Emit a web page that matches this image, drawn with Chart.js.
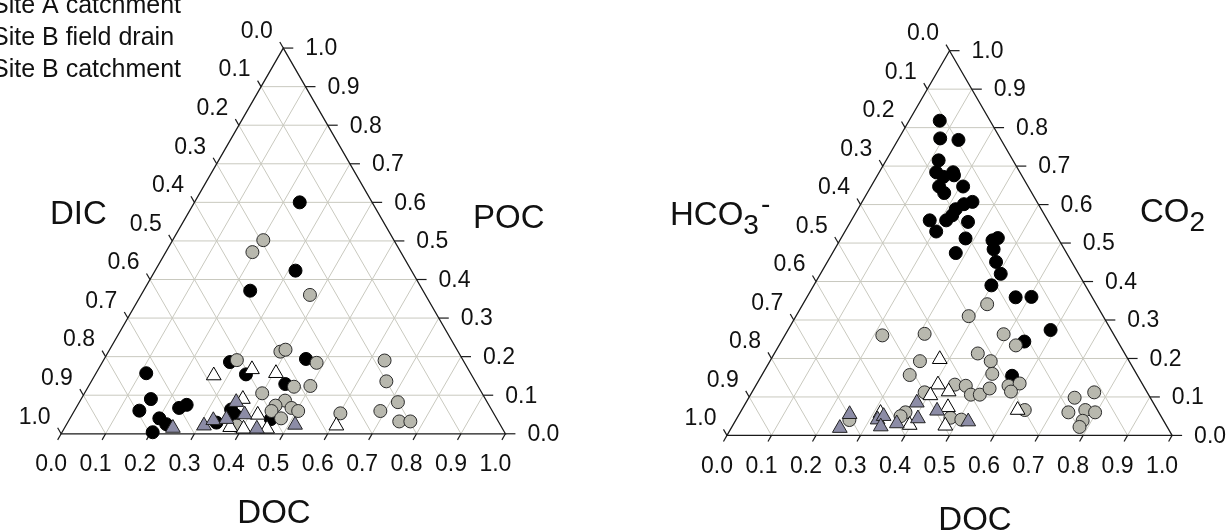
<!DOCTYPE html>
<html>
<head>
<meta charset="utf-8">
<script src="https://cdn.jsdelivr.net/npm/chart.js@4.4.0/dist/chart.umd.min.js"></script>
<style>
html,body{margin:0;padding:0;background:#fff;overflow:hidden;}
#wrap{position:relative;width:1232px;height:532px;}
#c1{position:absolute;left:0;top:0;}
#c2{position:absolute;left:616px;top:0;}
</style>
</head>
<body>
<div id="wrap">
<canvas id="c1" width="616" height="532"></canvas>
<canvas id="c2" width="616" height="532"></canvas>
</div>
<script>
// ---- tick labels / series names ----
const tickValues = [0,0.1,0.2,0.3,0.4,0.5,0.6,0.7,0.8,0.9,1.0];
const tickLabels = ['0.0','0.1','0.2','0.3','0.4','0.5','0.6','0.7','0.8','0.9','1.0'];
const seriesNames = ['Site A field drain','Site A catchment','Site B field drain','Site B catchment'];

// ---- LEFT plot: [DOC, POC] (DIC = 1 - DOC - POC) ----
const leftSiteAFieldDrain = [
 [0.237,0.600],[0.316,0.423],[0.240,0.371],
 [0.113,0.157],[0.157,0.090],[0.146,0.060],[0.201,0.040],[0.224,0.025],[0.204,0.004],
 [0.232,0.067],[0.245,0.075],[0.287,0.186],[0.339,0.154],[0.454,0.194],[0.440,0.129],
 [0.351,0.063],[0.367,0.049],[0.335,0.029],[0.453,0.038]
];
const leftSiteACatchment = [
 [0.204,0.502],[0.195,0.471],[0.380,0.360],
 [0.300,0.191],[0.387,0.213],[0.396,0.218],[0.483,0.184],[0.463,0.122],[0.499,0.124],
 [0.400,0.105],[0.461,0.086],[0.446,0.073],[0.485,0.067],[0.504,0.059],[0.444,0.059],
 [0.475,0.040],[0.385,0.021],[0.602,0.053],[0.633,0.190],[0.664,0.136],[0.717,0.082],
 [0.689,0.059],[0.745,0.032],[0.770,0.032]
];
const leftSiteBFieldDrain = [
 [0.268,0.151],[0.346,0.167],[0.405,0.157],[0.364,0.090],[0.418,0.049],
 [0.372,0.017],[0.404,0.013],[0.457,0.013],[0.609,0.021]
];
const leftSiteBCatchment = [
 [0.244,0.015],[0.311,0.021],[0.325,0.035],[0.353,0.038],[0.353,0.082],
 [0.388,0.050],[0.434,0.013],[0.515,0.023]
];

// ---- RIGHT plot: [DOC, CO2] (HCO3- = 1 - DOC - CO2) ----
const rightSiteAFieldDrain = [
 [0.069,0.818],[0.093,0.772],[0.136,0.768],[0.118,0.715],[0.128,0.684],[0.150,0.672],
 [0.166,0.684],[0.172,0.676],[0.153,0.647],[0.173,0.630],[0.207,0.647],[0.248,0.607],
 [0.232,0.601],[0.220,0.588],[0.220,0.572],[0.213,0.559],[0.176,0.559],[0.205,0.530],
 [0.264,0.555],[0.280,0.512],[0.277,0.474],[0.343,0.507],[0.352,0.513],[0.357,0.484],
 [0.379,0.451],[0.405,0.420],[0.399,0.390],[0.469,0.359],[0.504,0.360],[0.590,0.274],
 [0.546,0.244],[0.563,0.155]
];
const rightSiteACatchment = [
 [0.414,0.341],[0.388,0.310],[0.219,0.260],[0.312,0.264],[0.490,0.263],[0.532,0.234],
 [0.457,0.213],[0.496,0.193],[0.516,0.160],[0.337,0.193],[0.332,0.157],[0.446,0.132],
 [0.472,0.129],[0.495,0.106],[0.515,0.106],[0.529,0.122],[0.388,0.112],[0.568,0.129],
 [0.590,0.135],[0.581,0.114],[0.636,0.066],[0.769,0.112],[0.732,0.098],[0.737,0.060],
 [0.772,0.066],[0.797,0.060],[0.780,0.038],[0.781,0.022],[0.371,0.060],[0.365,0.050],
 [0.255,0.040],[0.479,0.046],[0.506,0.041]
];
const rightSiteBFieldDrain = [
 [0.379,0.198],[0.408,0.132],[0.441,0.114],[0.405,0.104],[0.460,0.073],[0.620,0.066],
 [0.397,0.027],[0.478,0.025],[0.316,0.058]
];
const rightSiteBCatchment = [
 [0.248,0.055],[0.244,0.019],[0.318,0.041],[0.327,0.050],[0.334,0.023],[0.366,0.031],
 [0.384,0.085],[0.407,0.044],[0.440,0.064],[0.524,0.036]
];

// ---- styles ----
const FONT = "'Liberation Sans', Arial, Helvetica, sans-serif";
const seriesStyle = [
  {style:'circle',   r:6.5, bg:'#000000', bd:'#000000', order:4},
  {style:'circle',   r:6.5, bg:'#b8b8ae', bd:'#2a2a2a', order:3},
  {style:'triangle', r:8.5, bg:'#ffffff', bd:'#000000', order:2},
  {style:'triangle', r:8.5, bg:'#8c8ca6', bd:'#222222', order:1}
];

function toXY(pairs){ return pairs.map(p => ({x: p[0] + 0.5*p[1], y: p[1]})); }

function makeDatasets(arrs){
  return arrs.map((a,i) => ({
    label: seriesNames[i],
    data: toXY(a),
    pointStyle: seriesStyle[i].style,
    pointRadius: seriesStyle[i].r,
    pointHoverRadius: seriesStyle[i].r,
    backgroundColor: seriesStyle[i].bg,
    borderColor: seriesStyle[i].bd,
    borderWidth: 1,
    showLine: false,
    order: seriesStyle[i].order
  }));
}

function P(chart, doc, top){
  const xs = chart.scales.x, ys = chart.scales.y;
  return [xs.getPixelForValue(doc + 0.5*top), ys.getPixelForValue(top)];
}

function drawRich(ctx, parts, x, y){
  let cx = x;
  parts.forEach(p => {
    ctx.font = p.size + 'px ' + FONT;
    ctx.fillText(p.t, cx + (p.dx||0), y + (p.dy||0));
    cx += ctx.measureText(p.t).width + (p.dx||0);
  });
}

function ternaryPlugin(cfg){
  return {
    id: 'ternary_' + cfg.id,
    beforeDatasetsDraw(chart){
      const ctx = chart.ctx;
      ctx.save();
      // grid
      ctx.strokeStyle = '#c9c9bf';
      ctx.lineWidth = 1;
      for (let i = 1; i < 10; i++){
        const v = tickValues[i];
        const lines = [
          [P(chart,0,v),       P(chart,1-v,v)],
          [P(chart,v,0),       P(chart,v,1-v)],
          [P(chart,1-v,0),     P(chart,0,1-v)]
        ];
        lines.forEach(l => {
          ctx.beginPath(); ctx.moveTo(l[0][0], l[0][1]); ctx.lineTo(l[1][0], l[1][1]); ctx.stroke();
        });
      }
      // edges
      const a = P(chart,0,0), b = P(chart,1,0), c = P(chart,0,1);
      ctx.strokeStyle = '#1a1a1a';
      ctx.lineWidth = 1.3;
      ctx.beginPath(); ctx.moveTo(a[0],a[1]); ctx.lineTo(b[0],b[1]); ctx.lineTo(c[0],c[1]); ctx.closePath(); ctx.stroke();
      // ticks
      const tl = 7, dxs = 0.5*tl, dys = 0.866*tl;
      ctx.lineWidth = 1.2;
      for (let i = 0; i <= 10; i++){
        const v = tickValues[i];
        let p = P(chart, v, 0);
        ctx.beginPath(); ctx.moveTo(p[0],p[1]); ctx.lineTo(p[0]-dxs, p[1]+dys); ctx.stroke();
        p = P(chart, 1-v, v);
        ctx.beginPath(); ctx.moveTo(p[0],p[1]); ctx.lineTo(p[0]+10, p[1]); ctx.stroke();
        p = P(chart, 0, 1-v);
        ctx.beginPath(); ctx.moveTo(p[0],p[1]); ctx.lineTo(p[0]-dxs, p[1]-dys); ctx.stroke();
      }
      ctx.restore();
    },
    afterDraw(chart){
      const ctx = chart.ctx;
      ctx.save();
      ctx.fillStyle = '#111';
      ctx.font = '23px ' + FONT;
      const tl = 7, dxs = 0.5*tl, dys = 0.866*tl;
      for (let i = 0; i <= 10; i++){
        const v = tickValues[i];
        let p = P(chart, v, 0);
        ctx.textAlign = 'center'; ctx.textBaseline = 'middle';
        ctx.fillText(tickLabels[i], p[0]-10, p[1]+31);
        p = P(chart, 1-v, v);
        ctx.textAlign = 'left'; ctx.textBaseline = 'middle';
        ctx.fillText(tickLabels[i], p[0]+22, p[1]+1);
        p = P(chart, 0, 1-v);
        ctx.textAlign = 'right'; ctx.textBaseline = 'bottom';
        ctx.fillText(tickLabels[i], p[0]-dxs-7, p[1]-dys+1);
      }
      // titles
      ctx.textBaseline = 'alphabetic';
      cfg.titles.forEach(t => {
        ctx.textAlign = 'left';
        if (t.center){
          let w = 0;
          t.parts.forEach(pp => { ctx.font = pp.size + 'px ' + FONT; w += ctx.measureText(pp.t).width; });
          drawRich(ctx, t.parts, t.x - w/2, t.y);
        } else {
          drawRich(ctx, t.parts, t.x, t.y);
        }
      });
      // legend (left chart only; markers fall outside the canvas)
      if (cfg.legend){
        ctx.font = '25px ' + FONT;
        ctx.textAlign = 'left';
        const baselines = [-19, 13, 45, 77];
        seriesNames.forEach((n,i) => {
          ctx.fillText(n, -8, baselines[i]);
        });
      }
      ctx.restore();
    }
  };
}

function makeChart(canvasId, arrs, ext, cfg){
  return new Chart(document.getElementById(canvasId), {
    type: 'scatter',
    data: { datasets: makeDatasets(arrs) },
    options: {
      responsive: false,
      animation: false,
      devicePixelRatio: 1,
      events: [],
      layout: { padding: 0 },
      plugins: { legend: { display: false }, tooltip: { enabled: false } },
      scales: {
        x: { type: 'linear', display: false, min: ext.xmin, max: ext.xmax },
        y: { type: 'linear', display: false, min: ext.ymin, max: ext.ymax }
      }
    },
    plugins: [ternaryPlugin(cfg)]
  });
}

// left chart: base from x=53.3 to 511.7 at y=440, apex at y=40
makeChart('c1',
  [leftSiteAFieldDrain, leftSiteACatchment, leftSiteBFieldDrain, leftSiteBCatchment],
  { xmin: -53.3/458.4, xmax: (616-53.3)/458.4, ymin: -(532-440)/400, ymax: 440/400 },
  { id: 'left', legend: true, titles: [
      { parts: [{t:'DIC', size:33}], x: 50, y: 224 },
      { parts: [{t:'POC', size:33}], x: 473, y: 228 },
      { parts: [{t:'DOC', size:33}], x: 274, y: 523, center: true }
  ]});

// right chart (canvas offset 616): base from x=104.7 to 564 at y=441.7, apex at y=42.7
makeChart('c2',
  [rightSiteAFieldDrain, rightSiteACatchment, rightSiteBFieldDrain, rightSiteBCatchment],
  { xmin: -104.7/459.3, xmax: (616-104.7)/459.3, ymin: -(532-441.7)/399, ymax: 441.7/399 },
  { id: 'right', legend: false, titles: [
      { parts: [{t:'HCO', size:33}, {t:'3', size:28, dy:9}, {t:'-', size:28, dy:-12, dx:2}], x: 54, y: 225 },
      { parts: [{t:'CO', size:33}, {t:'2', size:28, dy:9}], x: 524, y: 222 },
      { parts: [{t:'DOC', size:33}], x: 359, y: 530, center: true }
  ]});
</script>
</body>
</html>
